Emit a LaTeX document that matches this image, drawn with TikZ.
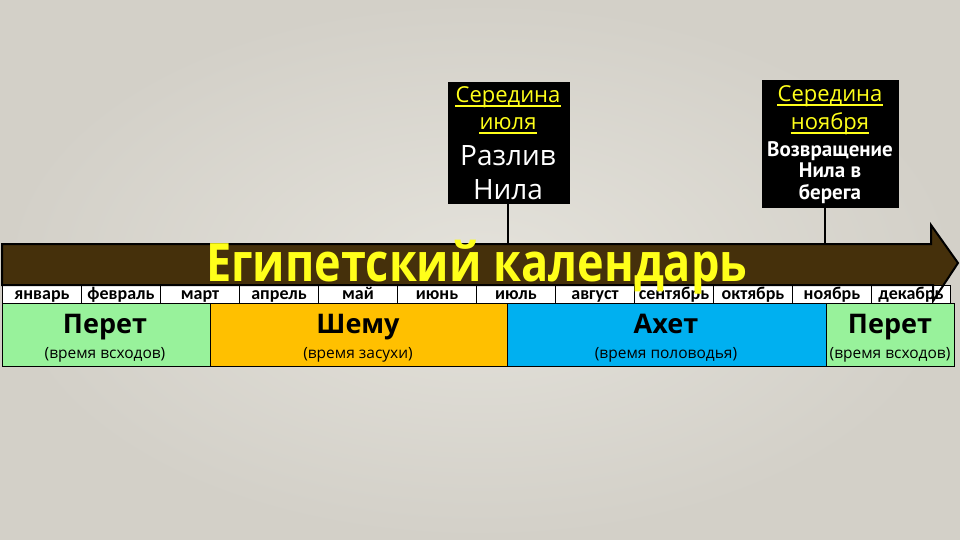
\documentclass[tikz,border=0pt]{standalone}
\usepackage{fontspec}
\setmainfont{Open Sans}
\newfontfamily\monthfont{Carlito}
\newfontfamily\boxfont{PT Sans}
\definecolor{bgin}{HTML}{E4E2DB}
\definecolor{bgout}{HTML}{D3D0C8}
\definecolor{brownc}{HTML}{45300B}
\definecolor{yelc}{HTML}{FFFF1A}
\definecolor{greenc}{HTML}{98F29B}
\definecolor{orangec}{HTML}{FFC000}
\definecolor{bluec}{HTML}{00B0F0}
\tikzset{
  month/.style={draw=black, line width=1pt, fill=white, minimum width=79pt, minimum height=19pt, inner sep=0pt, anchor=north west, text height=11pt, text depth=3pt, font=\monthfont\bfseries\fontsize{18}{18}\selectfont},
  season/.style={draw=black, line width=1.2pt, minimum height=63pt, inner sep=0pt, anchor=north west},
  seasname/.style={font=\bfseries\fontsize{27}{27}\selectfont, anchor=base},
  seassub/.style={font=\fontsize{15.5}{15.5}\selectfont, anchor=base},
  blackbox/.style={fill=black, draw=black, inner sep=0pt, anchor=north west},
  conn/.style={draw=black, line width=1.5pt},
  yeltext/.style={anchor=base, text=yelc, inner sep=0pt, font=\fontsize{22}{22}\selectfont},
  uline/.style={draw=yelc, line width=1.5pt},
  whitebig/.style={anchor=base, text=white, font=\fontsize{28}{28}\selectfont},
  whitebold/.style={anchor=base, text=white, font=\boxfont\bfseries\fontsize{21}{21}\selectfont}
}
\begin{document}
\begin{tikzpicture}[x=1pt,y=-1pt]
\useasboundingbox (0,0) rectangle (960,540);
\shade[inner color=bgin, outer color=bgout] (0,0) rectangle (960,540);
% top boxes
\node[blackbox, minimum width=121pt, minimum height=121pt] (b1) at (448,82) {};
\node[blackbox, minimum width=136pt, minimum height=127pt] (b2) at (762,80) {};
% connectors
\coordinate (c1) at (508,245);
\coordinate (c2) at (825,245);
\draw[conn] (b1.south -| c1) -- (c1);
\draw[conn] (b2.south -| c2) -- (c2);
% box 1 text
\node[yeltext] (t11) at (508,103) {Середина};
\node[yeltext] (t12) at (508,130) {июля};
\draw[uline] ([yshift=-3pt]t11.base west) -- ([yshift=-3pt]t11.base east);
\draw[uline] ([yshift=-3pt]t12.base west) -- ([yshift=-3pt]t12.base east);
\node[whitebig] (t13) at (508,165) {Разлив};
\node[whitebig] (t14) at (508,199) {Нила};
% box 2 text
\node[yeltext] (t21) at (830,102) {Середина};
\node[yeltext] (t22) at (830,130) {ноября};
\draw[uline] ([yshift=-3pt]t21.base west) -- ([yshift=-3pt]t21.base east);
\draw[uline] ([yshift=-3pt]t22.base west) -- ([yshift=-3pt]t22.base east);
\node[whitebold] (t23) at (830,157) {Возвращение};
\node[whitebold] (t24) at (830,178) {Нила в};
\node[whitebold] (t25) at (830,199) {берега};
% arrow fill
\fill[brownc] (2,244) -- (931,244) -- (931,225) -- (958,263) -- (933,301) -- (933,285) -- (2,285) -- cycle;
% months
\foreach \m [count=\i from 0] in {январь,февраль,март,апрель,май,июнь,июль,август,сентябрь,октябрь,ноябрь,декабрь}{
  \node[month] (m\i) at ({2+79*\i},285) {\m};
}
% arrow outline
\draw[black, line width=2pt, line join=miter] (2,244) -- (931,244) -- (931,225) -- (958,263) -- (933,301) -- (933,285) -- (2,285) -- cycle;
% title
\node[anchor=base west, text=yelc, font=\bfseries\fontsize{53}{53}\selectfont, inner sep=0pt] (title) at (206,281) {\scalebox{0.85}[1]{Египетский календарь}};
% seasons
\node[season, fill=greenc, minimum width=208pt] (s1) at (2,303) {};
\node[season, fill=orangec, minimum width=297pt] (s2) at (210,303) {};
\node[season, fill=bluec, minimum width=319pt] (s3) at (507,303) {};
\node[season, fill=greenc, minimum width=128pt] (s4) at (826,303) {};
\node[seasname] (n1) at (105,333) {Перет};
\node[seassub] (d1) at (105,358) {(время всходов)};
\node[seasname] (n2) at (358,333) {Шему};
\node[seassub] (d2) at (358,358) {(время засухи)};
\node[seasname] (n3) at (666,333) {Ахет};
\node[seassub] (d3) at (666,358) {(время половодья)};
\node[seasname] (n4) at (890,333) {Перет};
\node[seassub] (d4) at (890,358) {(время всходов)};
\end{tikzpicture}
\end{document}
